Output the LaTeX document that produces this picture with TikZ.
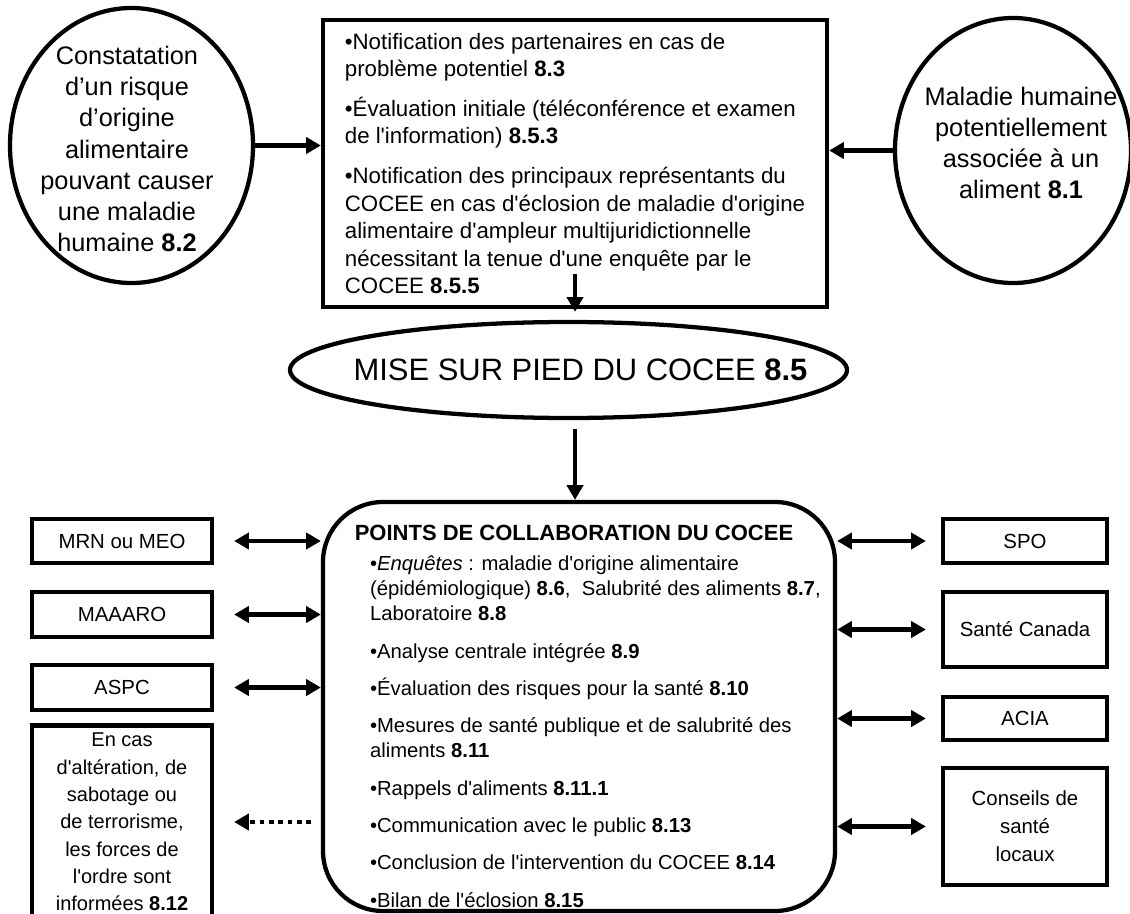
\documentclass[tikz,border=0pt]{standalone}
\usepackage{fontspec}
\setmainfont{Liberation Sans}[Ligatures=TeXOff]
\usetikzlibrary{calc,shapes.geometric,arrows.meta}
\newcommand{\pxunit}{0.75pt}
\newcommand{\bubblefont}{\fontsize{19}{23.4}\selectfont}
\newcommand{\notiffont}{\fontsize{16.7}{20.6}\selectfont}
\newcommand{\misefont}{\fontsize{23.2}{28}\selectfont}
\newcommand{\pointsheadfont}{\fontsize{16.5}{20}\selectfont\bfseries}
\newcommand{\pointsfont}{\fontsize{15.2}{18.75}\selectfont}
\newcommand{\sidefont}{\fontsize{15.3}{21}\selectfont}
\newcommand{\ordrefont}{\fontsize{15}{20.5}\selectfont}

\begin{document}
\begin{tikzpicture}[x=\pxunit,y=-\pxunit,line width=3.2pt,
	framebox/.style={draw,rectangle,inner sep=0pt,align=center,font=\sidefont},
	ovalnode/.style={draw,ellipse,inner sep=0pt},
	arr/.style={-{Triangle[length=11pt,width=12pt]}},
	darr/.style={{Triangle[length=11pt,width=12pt]}-{Triangle[length=11pt,width=12pt]}},
	dotarr/.style={arr,dash pattern=on 3.5pt off 3.5pt}]
	\useasboundingbox (0,0) rectangle (1130,913);

	\node[ovalnode,minimum width=182.25pt,minimum height=206.25pt,
		label={[align=center,font=\bubblefont,xshift=-3.4pt,yshift=-2.6pt]center:{Constatation\\d’un risque\\d’origine\\alimentaire\\pouvant causer\\une maladie\\humaine \textbf{8.2}}}] (constat) at (131.5,145.5) {};
	\node[ovalnode,minimum width=177pt,minimum height=198.75pt,
		label={[align=center,font=\bubblefont,xshift=6pt,yshift=5.6pt]center:{Maladie humaine\\potentiellement\\associée à un\\aliment \textbf{8.1}}}] (maladie) at (1013,150.5) {};
	\node[draw,rectangle,minimum width=378pt,minimum height=215.25pt,align=left,font=\notiffont] (notif) at (575,163.5)
		{•Notification des partenaires en cas de\\problème potentiel \textbf{8.3}\\[9.4pt]
		 •Évaluation initiale (téléconférence et examen\\de l'information) \textbf{8.5.3}\\[9.4pt]
		 •Notification des principaux représentants du\\COCEE en cas d'éclosion de maladie d'origine\\alimentaire d'ampleur multijuridictionnelle\\nécessitant la tenue d'une enquête par le\\COCEE \textbf{8.5.5}};
	\node[ovalnode,minimum width=417.75pt,minimum height=72pt,
		label={[font=\misefont,xshift=9pt]center:MISE SUR PIED DU COCEE \textbf{8.5}}] (mise) at (568.5,370) {};
	\node[draw,rectangle,rounded corners=45pt,minimum width=384pt,minimum height=306.75pt,
		label={[font=\pointsheadfont,anchor=north,inner sep=0pt,xshift=-3.75pt,yshift=-17.25pt]north:POINTS DE COLLABORATION DU COCEE},
		label={[font=\pointsfont,align=left,anchor=north west,inner sep=0pt,xshift=35.25pt,yshift=-40.5pt]north west:{•\textit{Enquêtes} : maladie d'origine alimentaire\\(épidémiologique) \textbf{8.6},\ \ Salubrité des aliments \textbf{8.7},\\Laboratoire \textbf{8.8}\\[9.25pt]
		 •Analyse centrale intégrée \textbf{8.9}\\[9.25pt]
		 •Évaluation des risques pour la santé \textbf{8.10}\\[9.25pt]
		 •Mesures de santé publique et de salubrité des\\aliments \textbf{8.11}\\[9.25pt]
		 •Rappels d'aliments \textbf{8.11.1}\\[9.25pt]
		 •Communication avec le public \textbf{8.13}\\[9.25pt]
		 •Conclusion de l'intervention du COCEE \textbf{8.14}\\[9.25pt]
		 •Bilan de l'éclosion \textbf{8.15}}}] (points) at (579,706.5) {};

	\node[framebox,minimum width=135pt,minimum height=33pt] (mrn) at (122,541) {MRN ou MEO};
	\node[framebox,minimum width=135pt,minimum height=33.75pt] (maaaro) at (122,614.5) {MAAARO};
	\node[framebox,minimum width=135pt,minimum height=33.75pt] (aspc) at (122,687.5) {ASPC};
	\node[framebox,font=\ordrefont,minimum width=135pt,minimum height=144.75pt] (ordre) at (122,822)
		{En cas\\d'altération, de\\sabotage ou\\de terrorisme,\\les forces de\\l'ordre sont\\informées \textbf{8.12}};
	\node[framebox,minimum width=123pt,minimum height=33pt] (spo) at (1025,541) {SPO};
	\node[framebox,minimum width=123pt,minimum height=56.25pt] (sante) at (1025,629.5) {Santé Canada};
	\node[framebox,minimum width=123pt,minimum height=32.25pt] (acia) at (1025,718.5) {ACIA};
	\node[framebox,minimum width=123pt,minimum height=87.75pt] (conseils) at (1025,826.5) {Conseils de\\santé\\locaux};

	\draw[arr] (constat.east) -- (constat.east -| notif.west);
	\draw[arr] (maladie.west) -- (maladie.west -| notif.east);
	\draw[arr] ([yshift=26pt]notif.south) -- ([yshift=-2pt]notif.south);
	\draw[arr] ($(mise.south)+(6.5,9)$) coordinate (misefoot) -- (misefoot |- points.north);

	\draw[darr,shorten <=15pt] (mrn.east) -- (mrn.east -| points.west);
	\draw[darr,shorten <=15pt] (maaaro.east) -- (maaaro.east -| points.west);
	\draw[darr,shorten <=15pt] (aspc.east) -- (aspc.east -| points.west);
	\draw[dotarr,shorten <=7.5pt,shorten >=15pt] (ordre.east -| points.west) -- (ordre.east);
	\draw[darr,shorten >=11.25pt] (spo.west -| points.east) -- (spo.west);
	\draw[darr,shorten >=11.25pt] (sante.west -| points.east) -- (sante.west);
	\draw[darr,shorten >=11.25pt] (acia.west -| points.east) -- (acia.west);
	\draw[darr,shorten >=11.25pt] (conseils.west -| points.east) -- (conseils.west);
\end{tikzpicture}
\end{document}
